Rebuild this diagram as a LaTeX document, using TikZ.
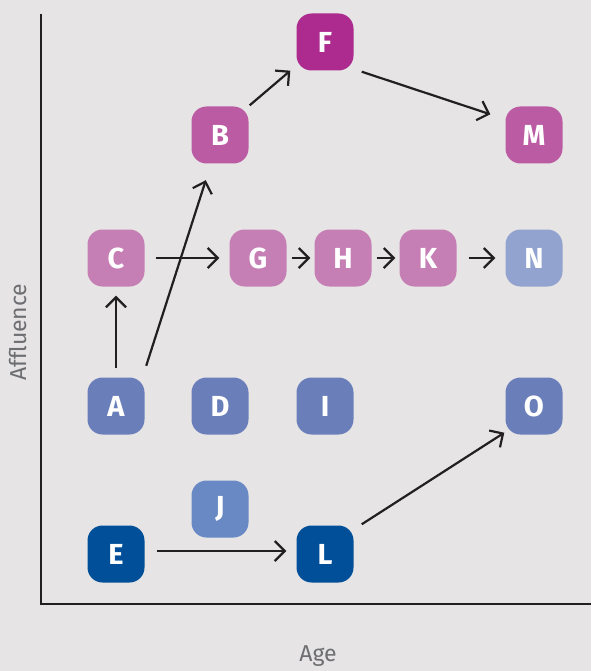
\documentclass[tikz,border=0pt]{standalone}
\usepackage{fontspec}
\setmainfont{Fira Sans}
\usetikzlibrary{arrows.meta,calc}
\definecolor{bgc}{HTML}{E6E4E5}
\definecolor{cF}{HTML}{AD2A8E}
\definecolor{cB}{HTML}{BB5BA3}
\definecolor{cC}{HTML}{C67FB5}
\definecolor{cN}{HTML}{93A3CF}
\definecolor{cA}{HTML}{6A7FBA}
\definecolor{cJ}{HTML}{6889C3}
\definecolor{cE}{HTML}{004F98}
\definecolor{axtxt}{HTML}{6D6E71}
\definecolor{ln}{HTML}{231F20}
\tikzset{
  box/.style={rounded corners=15pt, minimum width=57pt, minimum height=57pt, inner sep=0pt,
    text=white, font=\fontsize{29}{29}\selectfont\bfseries},
  conn/.style={draw=ln, line width=2.2pt, -{Straight Barb[length=10pt,width=20pt,line width=2.2pt]}},
  axis/.style={draw=ln, line width=2.2pt},
  axlabel/.style={text=axtxt, font=\fontsize{23}{23}\selectfont}
}
\begin{document}
\begin{tikzpicture}[x=1pt,y=-1pt]
\fill[bgc] (0,0) rectangle (591,671);
\useasboundingbox (0,0) rectangle (591,671);
% axes
\coordinate (top) at (41,14);
\coordinate (origin) at (41,604);
\coordinate (right) at (591,604);
\draw[axis] (top) -- (origin) -- (right);
\node[axlabel, rotate=90] (yl) at (18,332) {Affluence};
\node[axlabel] (xl) at (318,656) {Age};
% nodes
\node[box, fill=cF] (F) at (325,42) {F};
\node[box, fill=cB] (B) at (220,135) {B};
\node[box, fill=cB] (M) at (534,135) {M};
\node[box, fill=cC] (C) at (116,258) {C};
\node[box, fill=cC] (G) at (258,258) {G};
\node[box, fill=cC] (H) at (343,258) {H};
\node[box, fill=cC] (K) at (428,258) {K};
\node[box, fill=cN] (N) at (534,258) {N};
\node[box, fill=cA] (A) at (116,406) {A};
\node[box, fill=cA] (D) at (220,406) {D};
\node[box, fill=cA] (I) at (325,406) {I};
\node[box, fill=cA] (O) at (534,406) {O};
\node[box, fill=cJ] (J) at (220,509) {J};
\node[box, fill=cE] (E) at (116,554) {E};
\node[box, fill=cE] (L) at (325,554) {L};
% connectors
\draw[conn] ($(A.north)+(0,-9)$) -- ($(C.south)+(0,9)$);
\draw[conn] ($(A.north east)+(1.5,-11.5)$) -- ($(B.south west)+(14.5,16.5)$);
\draw[conn] ($(B.north east)+(1,-1)$) -- ($(F.south west)+(-6,0)$);
\draw[conn] ($(F.south east)+(8,1)$) -- ($(M.north west)+(-15,8)$);
\draw[conn] ($(C.east)+(11,0)$) -- ($(G.west)+(-10,0)$);
\draw[conn] ($(G.east)+(5,0)$) -- ($(H.west)+(-4,0)$);
\draw[conn] ($(H.east)+(5,0)$) -- ($(K.west)+(-4,0)$);
\draw[conn] ($(K.east)+(12,0)$) -- ($(N.west)+(-10,0)$);
\draw[conn] ($(E.east)+(12,-3)$) -- ($(L.west)+(-10,-3)$);
\draw[conn] ($(L.north east)+(8,-1)$) -- ($(O.south west)+(-1,-2)$);
\end{tikzpicture}
\end{document}
